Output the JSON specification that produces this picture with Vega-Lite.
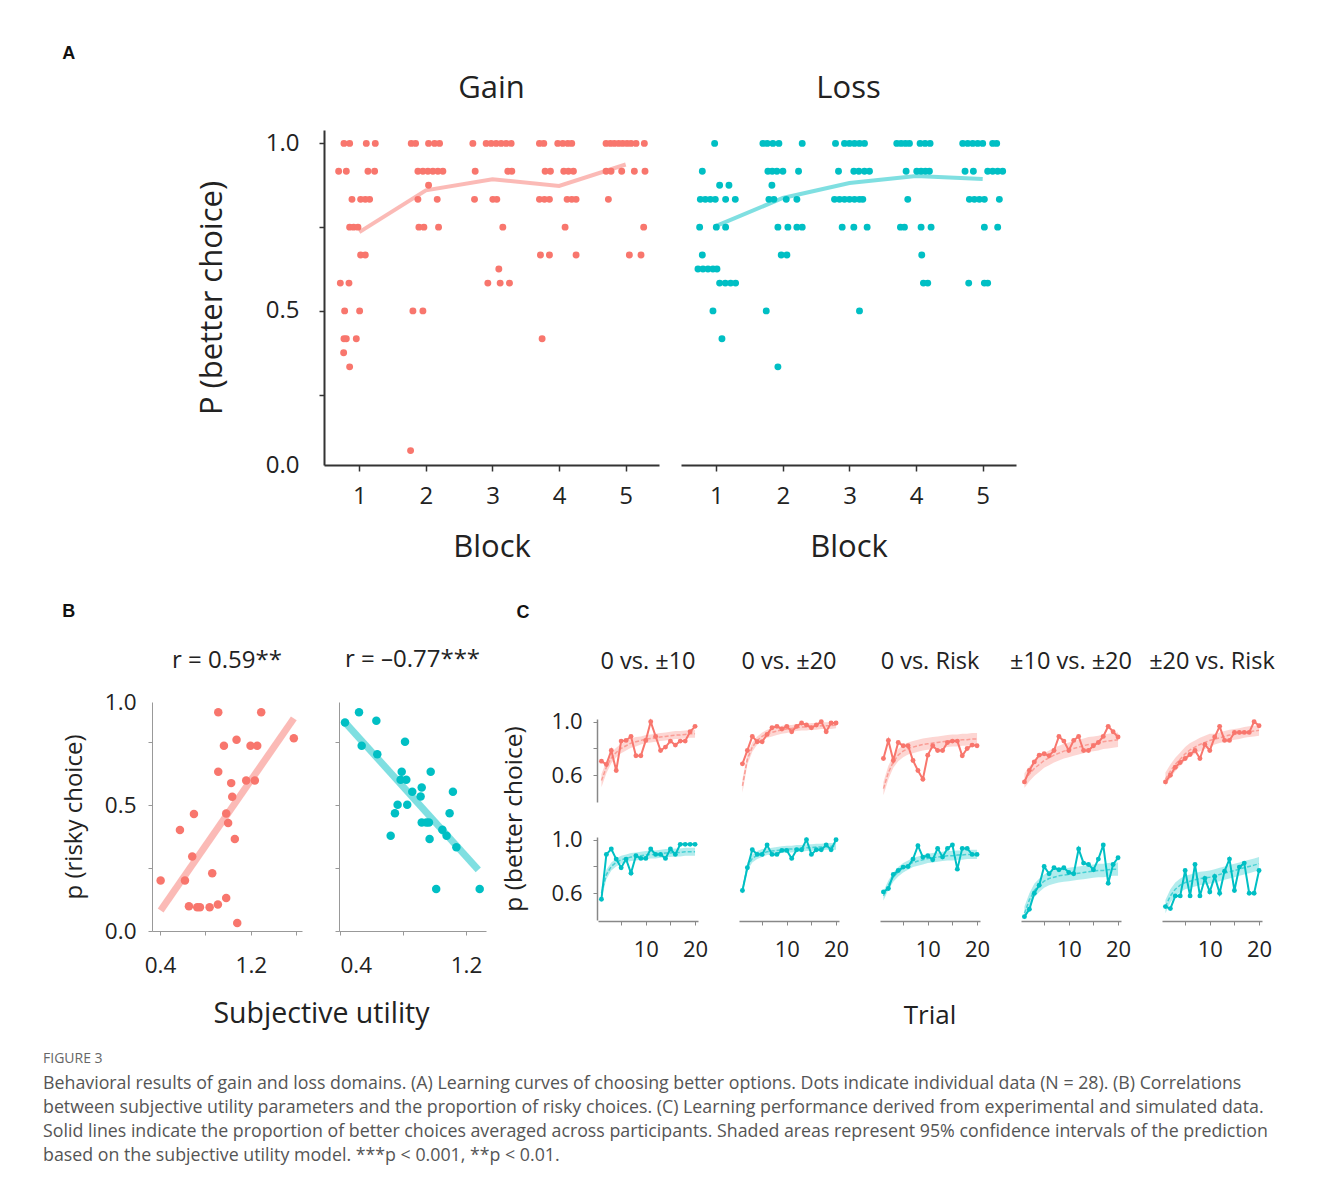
{
"$schema":"https://vega.github.io/schema/vega-lite/v6.json",
"padding":{"left":43,"top":45,"right":5,"bottom":5},
"background":"white",
"config":{"view":{"stroke":null},"font":"Open Sans","axis":{"grid":false,"titleFontWeight":"normal","labelColor":"#222","titleColor":"#222","labelOverlap":false},"header":{"labelColor":"#222","titleColor":"#222","titleFontWeight":"normal","labelFont":"Open Sans","titleFont":"Open Sans"},"title":{"fontWeight":"normal","color":"#222"}},
"title":{"text":"FIGURE 3","subtitle":["Behavioral results of gain and loss domains. (A) Learning curves of choosing better options. Dots indicate individual data (N = 28). (B) Correlations","between subjective utility parameters and the proportion of risky choices. (C) Learning performance derived from experimental and simulated data.","Solid lines indicate the proportion of better choices averaged across participants. Shaded areas represent 95% confidence intervals of the prediction","based on the subjective utility model. ***p < 0.001, **p < 0.01."],"orient":"bottom","anchor":"start","frame":"bounds","dx":-1,"offset":23,"font":"Open Sans","fontSize":14,"fontWeight":"normal","color":"#666","subtitleFont":"Open Sans","subtitleFontSize":17.8,"subtitleColor":"#555","subtitleLineHeight":24,"subtitlePadding":9},
"datasets":{
"A":[
{"dom":"Gain","k":"d","x":0.77,"y":1},{"dom":"Gain","k":"d","x":0.855,"y":1},{"dom":"Gain","k":"d","x":1.105,"y":1},{"dom":"Gain","k":"d","x":1.24,"y":1},{"dom":"Gain","k":"d","x":1.78,"y":1},{"dom":"Gain","k":"d","x":1.845,"y":1},{"dom":"Gain","k":"d","x":2.04,"y":1},{"dom":"Gain","k":"d","x":2.13,"y":1},{"dom":"Gain","k":"d","x":2.205,"y":1},{"dom":"Gain","k":"d","x":2.705,"y":1},{"dom":"Gain","k":"d","x":2.905,"y":1},{"dom":"Gain","k":"d","x":2.98,"y":1},{"dom":"Gain","k":"d","x":3.055,"y":1},{"dom":"Gain","k":"d","x":3.13,"y":1},{"dom":"Gain","k":"d","x":3.205,"y":1},{"dom":"Gain","k":"d","x":3.28,"y":1},{"dom":"Gain","k":"d","x":3.705,"y":1},{"dom":"Gain","k":"d","x":3.77,"y":1},{"dom":"Gain","k":"d","x":3.98,"y":1},{"dom":"Gain","k":"d","x":4.055,"y":1},{"dom":"Gain","k":"d","x":4.13,"y":1},{"dom":"Gain","k":"d","x":4.19,"y":1},{"dom":"Gain","k":"d","x":4.705,"y":1},{"dom":"Gain","k":"d","x":4.77,"y":1},{"dom":"Gain","k":"d","x":4.83,"y":1},{"dom":"Gain","k":"d","x":4.895,"y":1},{"dom":"Gain","k":"d","x":4.955,"y":1},{"dom":"Gain","k":"d","x":5.02,"y":1},{"dom":"Gain","k":"d","x":5.08,"y":1},{"dom":"Gain","k":"d","x":5.155,"y":1},{"dom":"Gain","k":"d","x":5.28,"y":1},
{"dom":"Gain","k":"d","x":0.69,"y":0.917},{"dom":"Gain","k":"d","x":0.805,"y":0.917},{"dom":"Gain","k":"d","x":1.13,"y":0.917},{"dom":"Gain","k":"d","x":1.23,"y":0.917},{"dom":"Gain","k":"d","x":1.88,"y":0.917},{"dom":"Gain","k":"d","x":1.955,"y":0.917},{"dom":"Gain","k":"d","x":2.03,"y":0.917},{"dom":"Gain","k":"d","x":2.105,"y":0.917},{"dom":"Gain","k":"d","x":2.18,"y":0.917},{"dom":"Gain","k":"d","x":2.255,"y":0.917},{"dom":"Gain","k":"d","x":2.74,"y":0.917},{"dom":"Gain","k":"d","x":3.23,"y":0.917},{"dom":"Gain","k":"d","x":3.29,"y":0.917},{"dom":"Gain","k":"d","x":3.79,"y":0.917},{"dom":"Gain","k":"d","x":3.87,"y":0.917},{"dom":"Gain","k":"d","x":4.07,"y":0.917},{"dom":"Gain","k":"d","x":4.14,"y":0.917},{"dom":"Gain","k":"d","x":4.215,"y":0.917},{"dom":"Gain","k":"d","x":4.705,"y":0.917},{"dom":"Gain","k":"d","x":4.78,"y":0.917},{"dom":"Gain","k":"d","x":4.94,"y":0.917},{"dom":"Gain","k":"d","x":5.13,"y":0.917},{"dom":"Gain","k":"d","x":5.29,"y":0.917},
{"dom":"Gain","k":"d","x":2.04,"y":0.875},
{"dom":"Gain","k":"d","x":0.89,"y":0.833},{"dom":"Gain","k":"d","x":1.02,"y":0.833},{"dom":"Gain","k":"d","x":1.09,"y":0.833},{"dom":"Gain","k":"d","x":1.155,"y":0.833},{"dom":"Gain","k":"d","x":1.88,"y":0.833},{"dom":"Gain","k":"d","x":2.17,"y":0.833},{"dom":"Gain","k":"d","x":2.73,"y":0.833},{"dom":"Gain","k":"d","x":3.005,"y":0.833},{"dom":"Gain","k":"d","x":3.065,"y":0.833},{"dom":"Gain","k":"d","x":3.705,"y":0.833},{"dom":"Gain","k":"d","x":3.78,"y":0.833},{"dom":"Gain","k":"d","x":3.855,"y":0.833},{"dom":"Gain","k":"d","x":4.12,"y":0.833},{"dom":"Gain","k":"d","x":4.19,"y":0.833},{"dom":"Gain","k":"d","x":4.255,"y":0.833},{"dom":"Gain","k":"d","x":4.74,"y":0.833},
{"dom":"Gain","k":"d","x":0.855,"y":0.75},{"dom":"Gain","k":"d","x":0.915,"y":0.75},{"dom":"Gain","k":"d","x":0.98,"y":0.75},{"dom":"Gain","k":"d","x":1.895,"y":0.75},{"dom":"Gain","k":"d","x":1.97,"y":0.75},{"dom":"Gain","k":"d","x":2.19,"y":0.75},{"dom":"Gain","k":"d","x":3.155,"y":0.75},{"dom":"Gain","k":"d","x":4.09,"y":0.75},{"dom":"Gain","k":"d","x":5.27,"y":0.75},
{"dom":"Gain","k":"d","x":1.02,"y":0.667},{"dom":"Gain","k":"d","x":1.09,"y":0.667},{"dom":"Gain","k":"d","x":3.72,"y":0.667},{"dom":"Gain","k":"d","x":3.855,"y":0.667},{"dom":"Gain","k":"d","x":4.255,"y":0.667},{"dom":"Gain","k":"d","x":5.055,"y":0.667},{"dom":"Gain","k":"d","x":5.23,"y":0.667},
{"dom":"Gain","k":"d","x":3.095,"y":0.625},
{"dom":"Gain","k":"d","x":0.715,"y":0.583},{"dom":"Gain","k":"d","x":0.845,"y":0.583},{"dom":"Gain","k":"d","x":2.93,"y":0.583},{"dom":"Gain","k":"d","x":3.115,"y":0.583},{"dom":"Gain","k":"d","x":3.255,"y":0.583},
{"dom":"Gain","k":"d","x":0.78,"y":0.5},{"dom":"Gain","k":"d","x":1.005,"y":0.5},{"dom":"Gain","k":"d","x":1.805,"y":0.5},{"dom":"Gain","k":"d","x":1.955,"y":0.5},
{"dom":"Gain","k":"d","x":0.77,"y":0.417},{"dom":"Gain","k":"d","x":0.805,"y":0.417},{"dom":"Gain","k":"d","x":0.955,"y":0.417},{"dom":"Gain","k":"d","x":3.745,"y":0.417},
{"dom":"Gain","k":"d","x":0.765,"y":0.375},{"dom":"Gain","k":"d","x":0.855,"y":0.333},{"dom":"Gain","k":"d","x":1.77,"y":0.083},
{"dom":"Loss","k":"d","x":0.975,"y":1},{"dom":"Loss","k":"d","x":1.7,"y":1},{"dom":"Loss","k":"d","x":1.765,"y":1},{"dom":"Loss","k":"d","x":1.85,"y":1},{"dom":"Loss","k":"d","x":1.94,"y":1},{"dom":"Loss","k":"d","x":2.29,"y":1},{"dom":"Loss","k":"d","x":2.79,"y":1},{"dom":"Loss","k":"d","x":2.925,"y":1},{"dom":"Loss","k":"d","x":3.0,"y":1},{"dom":"Loss","k":"d","x":3.075,"y":1},{"dom":"Loss","k":"d","x":3.15,"y":1},{"dom":"Loss","k":"d","x":3.225,"y":1},{"dom":"Loss","k":"d","x":3.71,"y":1},{"dom":"Loss","k":"d","x":3.775,"y":1},{"dom":"Loss","k":"d","x":3.84,"y":1},{"dom":"Loss","k":"d","x":3.9,"y":1},{"dom":"Loss","k":"d","x":4.06,"y":1},{"dom":"Loss","k":"d","x":4.135,"y":1},{"dom":"Loss","k":"d","x":4.21,"y":1},{"dom":"Loss","k":"d","x":4.7,"y":1},{"dom":"Loss","k":"d","x":4.775,"y":1},{"dom":"Loss","k":"d","x":4.85,"y":1},{"dom":"Loss","k":"d","x":4.925,"y":1},{"dom":"Loss","k":"d","x":5.0,"y":1},{"dom":"Loss","k":"d","x":5.15,"y":1},{"dom":"Loss","k":"d","x":5.21,"y":1},
{"dom":"Loss","k":"d","x":0.79,"y":0.917},{"dom":"Loss","k":"d","x":1.775,"y":0.917},{"dom":"Loss","k":"d","x":1.84,"y":0.917},{"dom":"Loss","k":"d","x":1.91,"y":0.917},{"dom":"Loss","k":"d","x":2.0,"y":0.917},{"dom":"Loss","k":"d","x":2.235,"y":0.917},{"dom":"Loss","k":"d","x":2.835,"y":0.917},{"dom":"Loss","k":"d","x":3.065,"y":0.917},{"dom":"Loss","k":"d","x":3.14,"y":0.917},{"dom":"Loss","k":"d","x":3.225,"y":0.917},{"dom":"Loss","k":"d","x":3.3,"y":0.917},{"dom":"Loss","k":"d","x":3.85,"y":0.917},{"dom":"Loss","k":"d","x":4.01,"y":0.917},{"dom":"Loss","k":"d","x":4.075,"y":0.917},{"dom":"Loss","k":"d","x":4.14,"y":0.917},{"dom":"Loss","k":"d","x":4.2,"y":0.917},{"dom":"Loss","k":"d","x":4.735,"y":0.917},{"dom":"Loss","k":"d","x":4.86,"y":0.917},{"dom":"Loss","k":"d","x":5.075,"y":0.917},{"dom":"Loss","k":"d","x":5.15,"y":0.917},{"dom":"Loss","k":"d","x":5.225,"y":0.917},{"dom":"Loss","k":"d","x":5.3,"y":0.917},
{"dom":"Loss","k":"d","x":1.05,"y":0.875},{"dom":"Loss","k":"d","x":1.19,"y":0.875},{"dom":"Loss","k":"d","x":1.835,"y":0.875},
{"dom":"Loss","k":"d","x":0.76,"y":0.833},{"dom":"Loss","k":"d","x":0.835,"y":0.833},{"dom":"Loss","k":"d","x":0.91,"y":0.833},{"dom":"Loss","k":"d","x":0.985,"y":0.833},{"dom":"Loss","k":"d","x":1.14,"y":0.833},{"dom":"Loss","k":"d","x":1.285,"y":0.833},{"dom":"Loss","k":"d","x":1.79,"y":0.833},{"dom":"Loss","k":"d","x":1.865,"y":0.833},{"dom":"Loss","k":"d","x":2.05,"y":0.833},{"dom":"Loss","k":"d","x":2.21,"y":0.833},{"dom":"Loss","k":"d","x":2.775,"y":0.833},{"dom":"Loss","k":"d","x":2.85,"y":0.833},{"dom":"Loss","k":"d","x":2.925,"y":0.833},{"dom":"Loss","k":"d","x":3.0,"y":0.833},{"dom":"Loss","k":"d","x":3.075,"y":0.833},{"dom":"Loss","k":"d","x":3.15,"y":0.833},{"dom":"Loss","k":"d","x":3.2,"y":0.833},{"dom":"Loss","k":"d","x":3.875,"y":0.833},{"dom":"Loss","k":"d","x":4.8,"y":0.833},{"dom":"Loss","k":"d","x":4.875,"y":0.833},{"dom":"Loss","k":"d","x":4.95,"y":0.833},{"dom":"Loss","k":"d","x":5.025,"y":0.833},{"dom":"Loss","k":"d","x":5.25,"y":0.833},
{"dom":"Loss","k":"d","x":0.75,"y":0.75},{"dom":"Loss","k":"d","x":1.0,"y":0.75},{"dom":"Loss","k":"d","x":1.14,"y":0.75},{"dom":"Loss","k":"d","x":1.925,"y":0.75},{"dom":"Loss","k":"d","x":2.075,"y":0.75},{"dom":"Loss","k":"d","x":2.21,"y":0.75},{"dom":"Loss","k":"d","x":2.29,"y":0.75},{"dom":"Loss","k":"d","x":2.89,"y":0.75},{"dom":"Loss","k":"d","x":3.065,"y":0.75},{"dom":"Loss","k":"d","x":3.265,"y":0.75},{"dom":"Loss","k":"d","x":3.765,"y":0.75},{"dom":"Loss","k":"d","x":3.825,"y":0.75},{"dom":"Loss","k":"d","x":4.075,"y":0.75},{"dom":"Loss","k":"d","x":4.225,"y":0.75},{"dom":"Loss","k":"d","x":5.025,"y":0.75},{"dom":"Loss","k":"d","x":5.225,"y":0.75},
{"dom":"Loss","k":"d","x":0.79,"y":0.667},{"dom":"Loss","k":"d","x":1.975,"y":0.667},{"dom":"Loss","k":"d","x":2.06,"y":0.667},{"dom":"Loss","k":"d","x":4.085,"y":0.667},
{"dom":"Loss","k":"d","x":0.725,"y":0.625},{"dom":"Loss","k":"d","x":0.8,"y":0.625},{"dom":"Loss","k":"d","x":0.875,"y":0.625},{"dom":"Loss","k":"d","x":0.95,"y":0.625},{"dom":"Loss","k":"d","x":1.01,"y":0.625},
{"dom":"Loss","k":"d","x":1.05,"y":0.583},{"dom":"Loss","k":"d","x":1.135,"y":0.583},{"dom":"Loss","k":"d","x":1.215,"y":0.583},{"dom":"Loss","k":"d","x":1.29,"y":0.583},{"dom":"Loss","k":"d","x":4.11,"y":0.583},{"dom":"Loss","k":"d","x":4.175,"y":0.583},{"dom":"Loss","k":"d","x":4.79,"y":0.583},{"dom":"Loss","k":"d","x":5.025,"y":0.583},{"dom":"Loss","k":"d","x":5.075,"y":0.583},
{"dom":"Loss","k":"d","x":0.95,"y":0.5},{"dom":"Loss","k":"d","x":1.75,"y":0.5},{"dom":"Loss","k":"d","x":3.15,"y":0.5},
{"dom":"Loss","k":"d","x":1.085,"y":0.417},{"dom":"Loss","k":"d","x":1.925,"y":0.333},
{"dom":"Gain","k":"m","x":1,"y":0.735},{"dom":"Gain","k":"m","x":2,"y":0.86},{"dom":"Gain","k":"m","x":3,"y":0.893},{"dom":"Gain","k":"m","x":4,"y":0.873},{"dom":"Gain","k":"m","x":5,"y":0.937},
{"dom":"Loss","k":"m","x":1,"y":0.754},{"dom":"Loss","k":"m","x":2,"y":0.837},{"dom":"Loss","k":"m","x":3,"y":0.882},{"dom":"Loss","k":"m","x":4,"y":0.903},{"dom":"Loss","k":"m","x":5,"y":0.894}
],
"bG":[
{"k":"p","su":0.913,"pr":0.868},{"k":"p","su":1.291,"pr":0.868},{"k":"p","su":0.963,"pr":0.735},{"k":"p","su":1.074,"pr":0.759},{"k":"p","su":1.197,"pr":0.735},{"k":"p","su":1.256,"pr":0.735},{"k":"p","su":1.578,"pr":0.765},{"k":"p","su":0.913,"pr":0.632},{"k":"p","su":1.027,"pr":0.587},{"k":"p","su":1.159,"pr":0.597},{"k":"p","su":1.235,"pr":0.597},{"k":"p","su":1.036,"pr":0.533},{"k":"p","su":0.699,"pr":0.464},{"k":"p","su":0.983,"pr":0.466},{"k":"p","su":1.0,"pr":0.429},{"k":"p","su":0.576,"pr":0.401},{"k":"p","su":1.059,"pr":0.365},{"k":"p","su":0.684,"pr":0.296},{"k":"p","su":0.406,"pr":0.2},{"k":"p","su":0.62,"pr":0.2},{"k":"p","su":0.86,"pr":0.229},{"k":"p","su":0.655,"pr":0.098},{"k":"p","su":0.728,"pr":0.094},{"k":"p","su":0.752,"pr":0.094},{"k":"p","su":0.837,"pr":0.094},{"k":"p","su":0.91,"pr":0.105},{"k":"p","su":0.983,"pr":0.131},{"k":"p","su":1.08,"pr":0.032},
{"k":"f","su":0.406,"pr":0.081},{"k":"f","su":1.578,"pr":0.844}
],
"bL":[
{"k":"p","su":0.432,"pr":0.828},{"k":"p","su":0.521,"pr":0.868},{"k":"p","su":0.631,"pr":0.835},{"k":"p","su":0.538,"pr":0.735},{"k":"p","su":0.637,"pr":0.702},{"k":"p","su":0.813,"pr":0.751},{"k":"p","su":0.792,"pr":0.632},{"k":"p","su":0.976,"pr":0.632},{"k":"p","su":0.785,"pr":0.6},{"k":"p","su":0.821,"pr":0.6},{"k":"p","su":0.859,"pr":0.553},{"k":"p","su":0.919,"pr":0.57},{"k":"p","su":0.912,"pr":0.534},{"k":"p","su":1.117,"pr":0.553},{"k":"p","su":0.766,"pr":0.501},{"k":"p","su":0.827,"pr":0.501},{"k":"p","su":0.749,"pr":0.467},{"k":"p","su":1.096,"pr":0.467},{"k":"p","su":0.919,"pr":0.431},{"k":"p","su":0.948,"pr":0.431},{"k":"p","su":0.965,"pr":0.431},{"k":"p","su":1.05,"pr":0.402},{"k":"p","su":1.077,"pr":0.378},{"k":"p","su":0.722,"pr":0.378},{"k":"p","su":0.969,"pr":0.365},{"k":"p","su":1.139,"pr":0.332},{"k":"p","su":1.011,"pr":0.167},{"k":"p","su":1.287,"pr":0.167},
{"k":"f","su":0.432,"pr":0.828},{"k":"f","su":1.278,"pr":0.243}
],
"C":[
{"c":"0 vs. ±10","dom":"Gain","t":1,"o":0.705,"p":0.56,"lo":0.51,"hi":0.61},{"c":"0 vs. ±10","dom":"Gain","t":2,"o":0.68,"p":0.66,"lo":0.615,"hi":0.705},{"c":"0 vs. ±10","dom":"Gain","t":3,"o":0.785,"p":0.73,"lo":0.69,"hi":0.77},{"c":"0 vs. ±10","dom":"Gain","t":4,"o":0.635,"p":0.77,"lo":0.735,"hi":0.805},{"c":"0 vs. ±10","dom":"Gain","t":5,"o":0.855,"p":0.8,"lo":0.765,"hi":0.835},{"c":"0 vs. ±10","dom":"Gain","t":6,"o":0.86,"p":0.82,"lo":0.785,"hi":0.855},{"c":"0 vs. ±10","dom":"Gain","t":7,"o":0.89,"p":0.84,"lo":0.805,"hi":0.875},{"c":"0 vs. ±10","dom":"Gain","t":8,"o":0.745,"p":0.85,"lo":0.815,"hi":0.885},{"c":"0 vs. ±10","dom":"Gain","t":9,"o":0.745,"p":0.86,"lo":0.83,"hi":0.89},{"c":"0 vs. ±10","dom":"Gain","t":10,"o":0.86,"p":0.87,"lo":0.84,"hi":0.9},{"c":"0 vs. ±10","dom":"Gain","t":11,"o":1.0,"p":0.875,"lo":0.845,"hi":0.905},{"c":"0 vs. ±10","dom":"Gain","t":12,"o":0.89,"p":0.88,"lo":0.85,"hi":0.91},{"c":"0 vs. ±10","dom":"Gain","t":13,"o":0.785,"p":0.885,"lo":0.855,"hi":0.915},{"c":"0 vs. ±10","dom":"Gain","t":14,"o":0.81,"p":0.89,"lo":0.86,"hi":0.92},{"c":"0 vs. ±10","dom":"Gain","t":15,"o":0.855,"p":0.895,"lo":0.865,"hi":0.925},{"c":"0 vs. ±10","dom":"Gain","t":16,"o":0.825,"p":0.9,"lo":0.87,"hi":0.93},{"c":"0 vs. ±10","dom":"Gain","t":17,"o":0.855,"p":0.9,"lo":0.87,"hi":0.93},{"c":"0 vs. ±10","dom":"Gain","t":18,"o":0.855,"p":0.905,"lo":0.875,"hi":0.935},{"c":"0 vs. ±10","dom":"Gain","t":19,"o":0.925,"p":0.91,"lo":0.88,"hi":0.94},{"c":"0 vs. ±10","dom":"Gain","t":20,"o":0.965,"p":0.91,"lo":0.88,"hi":0.94},
{"c":"0 vs. ±10","dom":"Loss","t":1,"o":0.555,"p":0.6,"lo":0.56,"hi":0.64},{"c":"0 vs. ±10","dom":"Loss","t":2,"o":0.89,"p":0.74,"lo":0.705,"hi":0.775},{"c":"0 vs. ±10","dom":"Loss","t":3,"o":0.93,"p":0.8,"lo":0.77,"hi":0.83},{"c":"0 vs. ±10","dom":"Loss","t":4,"o":0.855,"p":0.83,"lo":0.8,"hi":0.86},{"c":"0 vs. ±10","dom":"Loss","t":5,"o":0.79,"p":0.85,"lo":0.82,"hi":0.88},{"c":"0 vs. ±10","dom":"Loss","t":6,"o":0.855,"p":0.86,"lo":0.83,"hi":0.89},{"c":"0 vs. ±10","dom":"Loss","t":7,"o":0.75,"p":0.87,"lo":0.84,"hi":0.9},{"c":"0 vs. ±10","dom":"Loss","t":8,"o":0.88,"p":0.875,"lo":0.845,"hi":0.905},{"c":"0 vs. ±10","dom":"Loss","t":9,"o":0.86,"p":0.88,"lo":0.85,"hi":0.91},{"c":"0 vs. ±10","dom":"Loss","t":10,"o":0.86,"p":0.885,"lo":0.855,"hi":0.915},{"c":"0 vs. ±10","dom":"Loss","t":11,"o":0.93,"p":0.89,"lo":0.86,"hi":0.92},{"c":"0 vs. ±10","dom":"Loss","t":12,"o":0.89,"p":0.89,"lo":0.86,"hi":0.92},{"c":"0 vs. ±10","dom":"Loss","t":13,"o":0.89,"p":0.895,"lo":0.865,"hi":0.925},{"c":"0 vs. ±10","dom":"Loss","t":14,"o":0.86,"p":0.9,"lo":0.87,"hi":0.93},{"c":"0 vs. ±10","dom":"Loss","t":15,"o":0.93,"p":0.9,"lo":0.87,"hi":0.93},{"c":"0 vs. ±10","dom":"Loss","t":16,"o":0.89,"p":0.905,"lo":0.875,"hi":0.935},{"c":"0 vs. ±10","dom":"Loss","t":17,"o":0.965,"p":0.905,"lo":0.875,"hi":0.935},{"c":"0 vs. ±10","dom":"Loss","t":18,"o":0.965,"p":0.91,"lo":0.88,"hi":0.94},{"c":"0 vs. ±10","dom":"Loss","t":19,"o":0.965,"p":0.91,"lo":0.88,"hi":0.94},{"c":"0 vs. ±10","dom":"Loss","t":20,"o":0.965,"p":0.91,"lo":0.88,"hi":0.94},
{"c":"0 vs. ±20","dom":"Gain","t":1,"o":0.685,"p":0.52,"lo":0.47,"hi":0.57},{"c":"0 vs. ±20","dom":"Gain","t":2,"o":0.785,"p":0.72,"lo":0.68,"hi":0.76},{"c":"0 vs. ±20","dom":"Gain","t":3,"o":0.89,"p":0.81,"lo":0.775,"hi":0.845},{"c":"0 vs. ±20","dom":"Gain","t":4,"o":0.85,"p":0.86,"lo":0.83,"hi":0.89},{"c":"0 vs. ±20","dom":"Gain","t":5,"o":0.85,"p":0.89,"lo":0.86,"hi":0.92},{"c":"0 vs. ±20","dom":"Gain","t":6,"o":0.905,"p":0.91,"lo":0.88,"hi":0.94},{"c":"0 vs. ±20","dom":"Gain","t":7,"o":0.955,"p":0.92,"lo":0.89,"hi":0.95},{"c":"0 vs. ±20","dom":"Gain","t":8,"o":0.965,"p":0.93,"lo":0.9,"hi":0.96},{"c":"0 vs. ±20","dom":"Gain","t":9,"o":0.945,"p":0.94,"lo":0.91,"hi":0.97},{"c":"0 vs. ±20","dom":"Gain","t":10,"o":0.965,"p":0.945,"lo":0.915,"hi":0.975},{"c":"0 vs. ±20","dom":"Gain","t":11,"o":0.925,"p":0.95,"lo":0.925,"hi":0.975},{"c":"0 vs. ±20","dom":"Gain","t":12,"o":0.965,"p":0.955,"lo":0.93,"hi":0.98},{"c":"0 vs. ±20","dom":"Gain","t":13,"o":0.99,"p":0.96,"lo":0.935,"hi":0.985},{"c":"0 vs. ±20","dom":"Gain","t":14,"o":0.975,"p":0.96,"lo":0.935,"hi":0.985},{"c":"0 vs. ±20","dom":"Gain","t":15,"o":0.955,"p":0.965,"lo":0.94,"hi":0.99},{"c":"0 vs. ±20","dom":"Gain","t":16,"o":0.975,"p":0.965,"lo":0.94,"hi":0.99},{"c":"0 vs. ±20","dom":"Gain","t":17,"o":1.0,"p":0.97,"lo":0.945,"hi":0.995},{"c":"0 vs. ±20","dom":"Gain","t":18,"o":0.925,"p":0.97,"lo":0.945,"hi":0.995},{"c":"0 vs. ±20","dom":"Gain","t":19,"o":0.99,"p":0.97,"lo":0.945,"hi":0.995},{"c":"0 vs. ±20","dom":"Gain","t":20,"o":0.99,"p":0.975,"lo":0.95,"hi":1.0},
{"c":"0 vs. ±20","dom":"Loss","t":1,"o":0.62,"p":0.62,"lo":0.59,"hi":0.65},{"c":"0 vs. ±20","dom":"Loss","t":2,"o":0.79,"p":0.8,"lo":0.77,"hi":0.83},{"c":"0 vs. ±20","dom":"Loss","t":3,"o":0.925,"p":0.86,"lo":0.83,"hi":0.89},{"c":"0 vs. ±20","dom":"Loss","t":4,"o":0.89,"p":0.885,"lo":0.855,"hi":0.915},{"c":"0 vs. ±20","dom":"Loss","t":5,"o":0.89,"p":0.9,"lo":0.87,"hi":0.93},{"c":"0 vs. ±20","dom":"Loss","t":6,"o":0.96,"p":0.91,"lo":0.885,"hi":0.935},{"c":"0 vs. ±20","dom":"Loss","t":7,"o":0.89,"p":0.915,"lo":0.89,"hi":0.94},{"c":"0 vs. ±20","dom":"Loss","t":8,"o":0.89,"p":0.92,"lo":0.895,"hi":0.945},{"c":"0 vs. ±20","dom":"Loss","t":9,"o":0.92,"p":0.925,"lo":0.9,"hi":0.95},{"c":"0 vs. ±20","dom":"Loss","t":10,"o":0.92,"p":0.93,"lo":0.905,"hi":0.955},{"c":"0 vs. ±20","dom":"Loss","t":11,"o":0.86,"p":0.93,"lo":0.905,"hi":0.955},{"c":"0 vs. ±20","dom":"Loss","t":12,"o":0.925,"p":0.935,"lo":0.91,"hi":0.96},{"c":"0 vs. ±20","dom":"Loss","t":13,"o":0.925,"p":0.935,"lo":0.91,"hi":0.96},{"c":"0 vs. ±20","dom":"Loss","t":14,"o":1.0,"p":0.94,"lo":0.915,"hi":0.965},{"c":"0 vs. ±20","dom":"Loss","t":15,"o":0.89,"p":0.94,"lo":0.915,"hi":0.965},{"c":"0 vs. ±20","dom":"Loss","t":16,"o":0.925,"p":0.945,"lo":0.92,"hi":0.97},{"c":"0 vs. ±20","dom":"Loss","t":17,"o":0.925,"p":0.945,"lo":0.92,"hi":0.97},{"c":"0 vs. ±20","dom":"Loss","t":18,"o":0.96,"p":0.95,"lo":0.925,"hi":0.975},{"c":"0 vs. ±20","dom":"Loss","t":19,"o":0.925,"p":0.95,"lo":0.925,"hi":0.975},{"c":"0 vs. ±20","dom":"Loss","t":20,"o":1.0,"p":0.95,"lo":0.925,"hi":0.975},
{"c":"0 vs. Risk","dom":"Gain","t":1,"o":0.725,"p":0.5,"lo":0.45,"hi":0.55},{"c":"0 vs. Risk","dom":"Gain","t":2,"o":0.86,"p":0.62,"lo":0.57,"hi":0.67},{"c":"0 vs. Risk","dom":"Gain","t":3,"o":0.71,"p":0.7,"lo":0.655,"hi":0.745},{"c":"0 vs. Risk","dom":"Gain","t":4,"o":0.845,"p":0.75,"lo":0.705,"hi":0.795},{"c":"0 vs. Risk","dom":"Gain","t":5,"o":0.82,"p":0.78,"lo":0.735,"hi":0.825},{"c":"0 vs. Risk","dom":"Gain","t":6,"o":0.82,"p":0.8,"lo":0.755,"hi":0.845},{"c":"0 vs. Risk","dom":"Gain","t":7,"o":0.71,"p":0.81,"lo":0.765,"hi":0.855},{"c":"0 vs. Risk","dom":"Gain","t":8,"o":0.635,"p":0.82,"lo":0.775,"hi":0.865},{"c":"0 vs. Risk","dom":"Gain","t":9,"o":0.57,"p":0.83,"lo":0.785,"hi":0.875},{"c":"0 vs. Risk","dom":"Gain","t":10,"o":0.75,"p":0.835,"lo":0.79,"hi":0.88},{"c":"0 vs. Risk","dom":"Gain","t":11,"o":0.82,"p":0.84,"lo":0.795,"hi":0.885},{"c":"0 vs. Risk","dom":"Gain","t":12,"o":0.785,"p":0.845,"lo":0.8,"hi":0.89},{"c":"0 vs. Risk","dom":"Gain","t":13,"o":0.785,"p":0.85,"lo":0.805,"hi":0.895},{"c":"0 vs. Risk","dom":"Gain","t":14,"o":0.845,"p":0.855,"lo":0.81,"hi":0.9},{"c":"0 vs. Risk","dom":"Gain","t":15,"o":0.855,"p":0.86,"lo":0.815,"hi":0.905},{"c":"0 vs. Risk","dom":"Gain","t":16,"o":0.855,"p":0.86,"lo":0.815,"hi":0.905},{"c":"0 vs. Risk","dom":"Gain","t":17,"o":0.745,"p":0.865,"lo":0.82,"hi":0.91},{"c":"0 vs. Risk","dom":"Gain","t":18,"o":0.8,"p":0.865,"lo":0.82,"hi":0.91},{"c":"0 vs. Risk","dom":"Gain","t":19,"o":0.825,"p":0.87,"lo":0.825,"hi":0.915},{"c":"0 vs. Risk","dom":"Gain","t":20,"o":0.82,"p":0.87,"lo":0.825,"hi":0.915},
{"c":"0 vs. Risk","dom":"Loss","t":1,"o":0.61,"p":0.58,"lo":0.545,"hi":0.615},{"c":"0 vs. Risk","dom":"Loss","t":2,"o":0.635,"p":0.66,"lo":0.625,"hi":0.695},{"c":"0 vs. Risk","dom":"Loss","t":3,"o":0.74,"p":0.72,"lo":0.685,"hi":0.755},{"c":"0 vs. Risk","dom":"Loss","t":4,"o":0.77,"p":0.76,"lo":0.725,"hi":0.795},{"c":"0 vs. Risk","dom":"Loss","t":5,"o":0.795,"p":0.79,"lo":0.755,"hi":0.825},{"c":"0 vs. Risk","dom":"Loss","t":6,"o":0.8,"p":0.81,"lo":0.775,"hi":0.845},{"c":"0 vs. Risk","dom":"Loss","t":7,"o":0.855,"p":0.83,"lo":0.795,"hi":0.865},{"c":"0 vs. Risk","dom":"Loss","t":8,"o":0.955,"p":0.84,"lo":0.805,"hi":0.875},{"c":"0 vs. Risk","dom":"Loss","t":9,"o":0.87,"p":0.85,"lo":0.815,"hi":0.885},{"c":"0 vs. Risk","dom":"Loss","t":10,"o":0.88,"p":0.86,"lo":0.825,"hi":0.895},{"c":"0 vs. Risk","dom":"Loss","t":11,"o":0.85,"p":0.865,"lo":0.83,"hi":0.9},{"c":"0 vs. Risk","dom":"Loss","t":12,"o":0.935,"p":0.87,"lo":0.835,"hi":0.905},{"c":"0 vs. Risk","dom":"Loss","t":13,"o":0.87,"p":0.875,"lo":0.84,"hi":0.91},{"c":"0 vs. Risk","dom":"Loss","t":14,"o":0.935,"p":0.88,"lo":0.845,"hi":0.915},{"c":"0 vs. Risk","dom":"Loss","t":15,"o":0.96,"p":0.88,"lo":0.845,"hi":0.915},{"c":"0 vs. Risk","dom":"Loss","t":16,"o":0.78,"p":0.885,"lo":0.85,"hi":0.92},{"c":"0 vs. Risk","dom":"Loss","t":17,"o":0.935,"p":0.885,"lo":0.85,"hi":0.92},{"c":"0 vs. Risk","dom":"Loss","t":18,"o":0.935,"p":0.89,"lo":0.855,"hi":0.925},{"c":"0 vs. Risk","dom":"Loss","t":19,"o":0.89,"p":0.89,"lo":0.855,"hi":0.925},{"c":"0 vs. Risk","dom":"Loss","t":20,"o":0.89,"p":0.89,"lo":0.855,"hi":0.925},
{"c":"±10 vs. ±20","dom":"Gain","t":1,"o":0.55,"p":0.56,"lo":0.505,"hi":0.615},{"c":"±10 vs. ±20","dom":"Gain","t":2,"o":0.635,"p":0.61,"lo":0.555,"hi":0.665},{"c":"±10 vs. ±20","dom":"Gain","t":3,"o":0.7,"p":0.65,"lo":0.595,"hi":0.705},{"c":"±10 vs. ±20","dom":"Gain","t":4,"o":0.75,"p":0.68,"lo":0.625,"hi":0.735},{"c":"±10 vs. ±20","dom":"Gain","t":5,"o":0.76,"p":0.71,"lo":0.655,"hi":0.765},{"c":"±10 vs. ±20","dom":"Gain","t":6,"o":0.745,"p":0.73,"lo":0.675,"hi":0.785},{"c":"±10 vs. ±20","dom":"Gain","t":7,"o":0.785,"p":0.75,"lo":0.695,"hi":0.805},{"c":"±10 vs. ±20","dom":"Gain","t":8,"o":0.89,"p":0.765,"lo":0.71,"hi":0.82},{"c":"±10 vs. ±20","dom":"Gain","t":9,"o":0.855,"p":0.78,"lo":0.725,"hi":0.835},{"c":"±10 vs. ±20","dom":"Gain","t":10,"o":0.785,"p":0.79,"lo":0.735,"hi":0.845},{"c":"±10 vs. ±20","dom":"Gain","t":11,"o":0.86,"p":0.8,"lo":0.745,"hi":0.855},{"c":"±10 vs. ±20","dom":"Gain","t":12,"o":0.89,"p":0.81,"lo":0.755,"hi":0.865},{"c":"±10 vs. ±20","dom":"Gain","t":13,"o":0.785,"p":0.82,"lo":0.765,"hi":0.875},{"c":"±10 vs. ±20","dom":"Gain","t":14,"o":0.785,"p":0.83,"lo":0.775,"hi":0.885},{"c":"±10 vs. ±20","dom":"Gain","t":15,"o":0.82,"p":0.835,"lo":0.78,"hi":0.89},{"c":"±10 vs. ±20","dom":"Gain","t":16,"o":0.845,"p":0.84,"lo":0.785,"hi":0.895},{"c":"±10 vs. ±20","dom":"Gain","t":17,"o":0.89,"p":0.85,"lo":0.795,"hi":0.905},{"c":"±10 vs. ±20","dom":"Gain","t":18,"o":0.965,"p":0.855,"lo":0.8,"hi":0.91},{"c":"±10 vs. ±20","dom":"Gain","t":19,"o":0.925,"p":0.86,"lo":0.805,"hi":0.915},{"c":"±10 vs. ±20","dom":"Gain","t":20,"o":0.885,"p":0.865,"lo":0.81,"hi":0.92},
{"c":"±10 vs. ±20","dom":"Loss","t":1,"o":0.425,"p":0.45,"lo":0.4,"hi":0.5},{"c":"±10 vs. ±20","dom":"Loss","t":2,"o":0.48,"p":0.55,"lo":0.5,"hi":0.6},{"c":"±10 vs. ±20","dom":"Loss","t":3,"o":0.6,"p":0.62,"lo":0.57,"hi":0.67},{"c":"±10 vs. ±20","dom":"Loss","t":4,"o":0.66,"p":0.66,"lo":0.61,"hi":0.71},{"c":"±10 vs. ±20","dom":"Loss","t":5,"o":0.8,"p":0.69,"lo":0.64,"hi":0.74},{"c":"±10 vs. ±20","dom":"Loss","t":6,"o":0.745,"p":0.71,"lo":0.66,"hi":0.76},{"c":"±10 vs. ±20","dom":"Loss","t":7,"o":0.79,"p":0.72,"lo":0.67,"hi":0.77},{"c":"±10 vs. ±20","dom":"Loss","t":8,"o":0.775,"p":0.73,"lo":0.68,"hi":0.78},{"c":"±10 vs. ±20","dom":"Loss","t":9,"o":0.79,"p":0.735,"lo":0.685,"hi":0.785},{"c":"±10 vs. ±20","dom":"Loss","t":10,"o":0.755,"p":0.74,"lo":0.69,"hi":0.79},{"c":"±10 vs. ±20","dom":"Loss","t":11,"o":0.745,"p":0.745,"lo":0.695,"hi":0.795},{"c":"±10 vs. ±20","dom":"Loss","t":12,"o":0.93,"p":0.75,"lo":0.7,"hi":0.8},{"c":"±10 vs. ±20","dom":"Loss","t":13,"o":0.825,"p":0.755,"lo":0.705,"hi":0.805},{"c":"±10 vs. ±20","dom":"Loss","t":14,"o":0.815,"p":0.76,"lo":0.71,"hi":0.81},{"c":"±10 vs. ±20","dom":"Loss","t":15,"o":0.775,"p":0.765,"lo":0.715,"hi":0.815},{"c":"±10 vs. ±20","dom":"Loss","t":16,"o":0.855,"p":0.77,"lo":0.72,"hi":0.82},{"c":"±10 vs. ±20","dom":"Loss","t":17,"o":0.96,"p":0.77,"lo":0.72,"hi":0.82},{"c":"±10 vs. ±20","dom":"Loss","t":18,"o":0.675,"p":0.775,"lo":0.725,"hi":0.825},{"c":"±10 vs. ±20","dom":"Loss","t":19,"o":0.815,"p":0.78,"lo":0.73,"hi":0.83},{"c":"±10 vs. ±20","dom":"Loss","t":20,"o":0.865,"p":0.78,"lo":0.73,"hi":0.83},
{"c":"±20 vs. Risk","dom":"Gain","t":1,"o":0.55,"p":0.57,"lo":0.52,"hi":0.62},{"c":"±20 vs. Risk","dom":"Gain","t":2,"o":0.6,"p":0.63,"lo":0.58,"hi":0.68},{"c":"±20 vs. Risk","dom":"Gain","t":3,"o":0.66,"p":0.68,"lo":0.63,"hi":0.73},{"c":"±20 vs. Risk","dom":"Gain","t":4,"o":0.695,"p":0.72,"lo":0.67,"hi":0.77},{"c":"±20 vs. Risk","dom":"Gain","t":5,"o":0.725,"p":0.76,"lo":0.71,"hi":0.81},{"c":"±20 vs. Risk","dom":"Gain","t":6,"o":0.755,"p":0.79,"lo":0.74,"hi":0.84},{"c":"±20 vs. Risk","dom":"Gain","t":7,"o":0.785,"p":0.81,"lo":0.76,"hi":0.86},{"c":"±20 vs. Risk","dom":"Gain","t":8,"o":0.725,"p":0.83,"lo":0.78,"hi":0.88},{"c":"±20 vs. Risk","dom":"Gain","t":9,"o":0.83,"p":0.845,"lo":0.795,"hi":0.895},{"c":"±20 vs. Risk","dom":"Gain","t":10,"o":0.785,"p":0.86,"lo":0.81,"hi":0.91},{"c":"±20 vs. Risk","dom":"Gain","t":11,"o":0.885,"p":0.87,"lo":0.83,"hi":0.91},{"c":"±20 vs. Risk","dom":"Gain","t":12,"o":0.965,"p":0.88,"lo":0.84,"hi":0.92},{"c":"±20 vs. Risk","dom":"Gain","t":13,"o":0.86,"p":0.89,"lo":0.85,"hi":0.93},{"c":"±20 vs. Risk","dom":"Gain","t":14,"o":0.86,"p":0.9,"lo":0.86,"hi":0.94},{"c":"±20 vs. Risk","dom":"Gain","t":15,"o":0.92,"p":0.905,"lo":0.865,"hi":0.945},{"c":"±20 vs. Risk","dom":"Gain","t":16,"o":0.92,"p":0.91,"lo":0.87,"hi":0.95},{"c":"±20 vs. Risk","dom":"Gain","t":17,"o":0.92,"p":0.92,"lo":0.88,"hi":0.96},{"c":"±20 vs. Risk","dom":"Gain","t":18,"o":0.92,"p":0.925,"lo":0.885,"hi":0.965},{"c":"±20 vs. Risk","dom":"Gain","t":19,"o":1.0,"p":0.93,"lo":0.89,"hi":0.97},{"c":"±20 vs. Risk","dom":"Gain","t":20,"o":0.97,"p":0.935,"lo":0.895,"hi":0.975},
{"c":"±20 vs. Risk","dom":"Loss","t":1,"o":0.5,"p":0.5,"lo":0.45,"hi":0.55},{"c":"±20 vs. Risk","dom":"Loss","t":2,"o":0.485,"p":0.58,"lo":0.53,"hi":0.63},{"c":"±20 vs. Risk","dom":"Loss","t":3,"o":0.58,"p":0.63,"lo":0.58,"hi":0.68},{"c":"±20 vs. Risk","dom":"Loss","t":4,"o":0.58,"p":0.66,"lo":0.61,"hi":0.71},{"c":"±20 vs. Risk","dom":"Loss","t":5,"o":0.77,"p":0.68,"lo":0.63,"hi":0.73},{"c":"±20 vs. Risk","dom":"Loss","t":6,"o":0.58,"p":0.69,"lo":0.64,"hi":0.74},{"c":"±20 vs. Risk","dom":"Loss","t":7,"o":0.815,"p":0.7,"lo":0.65,"hi":0.75},{"c":"±20 vs. Risk","dom":"Loss","t":8,"o":0.58,"p":0.71,"lo":0.66,"hi":0.76},{"c":"±20 vs. Risk","dom":"Loss","t":9,"o":0.71,"p":0.715,"lo":0.665,"hi":0.765},{"c":"±20 vs. Risk","dom":"Loss","t":10,"o":0.61,"p":0.72,"lo":0.67,"hi":0.77},{"c":"±20 vs. Risk","dom":"Loss","t":11,"o":0.725,"p":0.73,"lo":0.68,"hi":0.78},{"c":"±20 vs. Risk","dom":"Loss","t":12,"o":0.6,"p":0.74,"lo":0.69,"hi":0.79},{"c":"±20 vs. Risk","dom":"Loss","t":13,"o":0.765,"p":0.75,"lo":0.7,"hi":0.8},{"c":"±20 vs. Risk","dom":"Loss","t":14,"o":0.855,"p":0.76,"lo":0.71,"hi":0.81},{"c":"±20 vs. Risk","dom":"Loss","t":15,"o":0.62,"p":0.77,"lo":0.72,"hi":0.82},{"c":"±20 vs. Risk","dom":"Loss","t":16,"o":0.795,"p":0.78,"lo":0.73,"hi":0.83},{"c":"±20 vs. Risk","dom":"Loss","t":17,"o":0.825,"p":0.79,"lo":0.74,"hi":0.84},{"c":"±20 vs. Risk","dom":"Loss","t":18,"o":0.6,"p":0.8,"lo":0.75,"hi":0.85},{"c":"±20 vs. Risk","dom":"Loss","t":19,"o":0.6,"p":0.81,"lo":0.76,"hi":0.86},{"c":"±20 vs. Risk","dom":"Loss","t":20,"o":0.77,"p":0.82,"lo":0.77,"hi":0.87}
]
},
"spacing":40,
"vconcat":[
{
"spacing":17,
"hconcat":[
{"width":1,"height":1,"data":{"values":[{}]},"mark":{"type":"rect","opacity":0}},
{
"title":{"text":"A","anchor":"start","frame":"bounds","font":"Liberation Sans","fontWeight":"bold","fontSize":18,"color":"#111","dx":-134,"offset":10},
"data":{"name":"A"},
"facet":{"column":{"field":"dom","type":"nominal","title":null,"header":{"labelFontSize":31,"labelPadding":25}}},
"spacing":22,
"spec":{
"width":335,"height":335,
"layer":[
{"transform":[{"filter":"datum.k == 'd'"}],"mark":{"type":"circle","size":48,"opacity":1},
"encoding":{
"x":{"field":"x","type":"quantitative","scale":{"domain":[0.47,5.5],"nice":false,"zero":false},"axis":{"values":[1,2,3,4,5],"format":"d","title":"Block","titleFontSize":31,"titlePadding":24,"labelFontSize":24,"labelPadding":13,"labelAngle":0,"tickSize":6,"domainColor":"#333","domainWidth":2,"tickColor":"#333","tickWidth":1.5}},
"y":{"field":"y","type":"quantitative","scale":{"domain":[0.04,1.04],"nice":false,"zero":false},"axis":{"values":[0.04,0.25,0.5,0.75,1],"labelOverlap":false,"labelExpr":"datum.value < 0.1 ? '0.0' : (datum.value == 0.5 ? '0.5' : (datum.value == 1 ? '1.0' : ''))","tickOpacity":{"condition":{"test":"datum.value < 0.1","value":0},"value":1},"title":"P (better choice)","titleFontSize":31,"titlePadding":37,"labelFontSize":24,"labelPadding":20,"tickSize":5,"domainColor":"#333","domainWidth":2,"tickColor":"#333","tickWidth":1.5}},
"color":{"field":"dom","type":"nominal","scale":{"domain":["Gain","Loss"],"range":["#F8766D","#00BFC4"]},"legend":null}
}},
{"transform":[{"filter":"datum.k == 'm'"}],"mark":{"type":"line","strokeWidth":4,"opacity":0.5},
"encoding":{
"x":{"field":"x","type":"quantitative"},
"y":{"field":"y","type":"quantitative"},
"color":{"field":"dom","type":"nominal","legend":null}
}}
]}
}
]
},
{
"spacing":17,
"hconcat":[
{"width":1,"height":1,"data":{"values":[{}]},"mark":{"type":"rect","opacity":0}},
{
"spacing":8,
"hconcat":[
{
"spacing":0,
"vconcat":[
{"width":1,"height":1,"data":{"values":[{}]},"mark":{"type":"rect","opacity":0}},
{
"title":{"text":"B","anchor":"start","frame":"bounds","font":"Liberation Sans","fontWeight":"bold","fontSize":18,"color":"#111","offset":27},
"bounds":"flush",
"spacing":37,
"hconcat":[
{
"width":150,"height":229,
"data":{"name":"bG"},
"title":{"text":"r = 0.59**","fontSize":24,"frame":"group","offset":18},
"layer":[
{"transform":[{"filter":"datum.k == 'p'"}],"mark":{"type":"circle","size":72,"opacity":1,"color":"#F8766D"},
"encoding":{
"x":{"field":"su","type":"quantitative","scale":{"domain":[0.33,1.65],"nice":false,"zero":false},"axis":{"values":[0.4,0.8,1.2,1.6],"labelOverlap":false,"format":".1f","labelExpr":"(datum.value == 0.4 || datum.value == 1.2) ? datum.label : ''","title":"Subjective utility","titleX":169,"titleFontSize":28.5,"titlePadding":23,"labelFontSize":22.5,"labelPadding":19,"tickSize":4,"domainColor":"#999","tickColor":"#999"}},
"y":{"field":"pr","type":"quantitative","scale":{"domain":[0,0.909],"nice":false,"zero":false},"axis":{"values":[0,0.25,0.5,0.75,0.909],"labelOverlap":false,"labelExpr":"datum.value == 0 ? '0.0' : (datum.value == 0.5 ? '0.5' : (datum.value > 0.9 ? '1.0' : ''))","tickOpacity":{"condition":{"test":"datum.value > 0.9","value":0},"value":1},"title":"p (risky choice)","titleFontSize":24,"titlePadding":18,"labelFontSize":22.5,"labelPadding":12,"tickSize":4,"domainColor":"#999","tickColor":"#999"}}
}},
{"transform":[{"filter":"datum.k == 'f'"}],"mark":{"type":"line","strokeWidth":7,"color":"#F8766D","opacity":0.5},
"encoding":{"x":{"field":"su","type":"quantitative"},"y":{"field":"pr","type":"quantitative"}}}
]},
{
"width":147,"height":229,
"data":{"name":"bL"},
"title":{"text":"r = –0.77***","fontSize":24,"frame":"group","offset":30},
"layer":[
{"transform":[{"filter":"datum.k == 'p'"}],"mark":{"type":"circle","size":72,"opacity":1,"color":"#00BFC4"},
"encoding":{
"x":{"field":"su","type":"quantitative","scale":{"domain":[0.394,1.327],"nice":false,"zero":false},"axis":{"values":[0.4,0.8,1.2],"labelOverlap":false,"format":".1f","labelExpr":"(datum.value == 0.4 || datum.value == 1.2) ? datum.label : ''","title":null,"labelFontSize":22.5,"labelPadding":19,"tickSize":4,"domainColor":"#999","tickColor":"#999"}},
"y":{"field":"pr","type":"quantitative","scale":{"domain":[0,0.909],"nice":false,"zero":false},"axis":{"values":[0,0.25,0.5,0.75],"labels":false,"title":null,"tickSize":4,"domainColor":"#999","tickColor":"#999"}}
}},
{"transform":[{"filter":"datum.k == 'f'"}],"mark":{"type":"line","strokeWidth":7,"color":"#00BFC4","opacity":0.5},
"encoding":{"x":{"field":"su","type":"quantitative"},"y":{"field":"pr","type":"quantitative"}}}
]}
]
}
]
},
{
"spacing":0,
"vconcat":[
{"width":1,"height":1,"data":{"values":[{}]},"mark":{"type":"rect","opacity":0}},
{
"title":{"text":"C","anchor":"start","frame":"bounds","font":"Liberation Sans","fontWeight":"bold","fontSize":18,"color":"#111","offset":28,"dx":15},
"data":{"name":"C"},
"facet":{
"row":{"field":"dom","type":"nominal","title":"p (better choice)","header":{"labels":false,"titleFontSize":24.5,"titlePadding":14}},
"column":{"field":"c","type":"nominal","sort":["0 vs. ±10","0 vs. ±20","0 vs. Risk","±10 vs. ±20","±20 vs. Risk"],"title":"Trial","header":{"labelOrient":"top","titleOrient":"bottom","labelFontSize":23.5,"labelPadding":44,"titleFontSize":26,"titlePadding":33}}
},
"spacing":{"row":32,"column":38},
"spec":{
"width":100,"height":83,
"layer":[
{"mark":{"type":"area","opacity":0.3},
"encoding":{
"x":{"field":"t","type":"quantitative","scale":{"domain":[0.3,20.6],"nice":false,"zero":false},"axis":{"values":[5,10,15,20],"labelOverlap":false,"labelExpr":"(datum.value == 10 || datum.value == 20) ? datum.label : ''","title":null,"labelFontSize":22,"labelPadding":14,"tickSize":4,"domainColor":"#888","tickColor":"#888","domainWidth":1.5}},
"y":{"field":"lo","type":"quantitative","scale":{"domain":[0.4,1.02],"nice":false,"zero":false},"axis":{"values":[0.6,0.8,1.0],"labelOverlap":false,"format":".1f","labelExpr":"(datum.value > 0.7 && datum.value < 0.9) ? '' : datum.label","title":null,"labelFontSize":22,"labelPadding":11,"tickSize":4,"domainColor":"#888","tickColor":"#888","domainWidth":1.5}},
"y2":{"field":"hi"},
"color":{"field":"dom","type":"nominal","scale":{"domain":["Gain","Loss"],"range":["#F8766D","#00BFC4"]},"legend":null}
}},
{"mark":{"type":"line","strokeWidth":1.5,"strokeDash":[4,2],"opacity":0.6},
"encoding":{"x":{"field":"t","type":"quantitative","axis":{"values":[5,10,15,20],"labelOverlap":false,"labelExpr":"(datum.value == 10 || datum.value == 20) ? datum.label : ''","title":null,"labelFontSize":22,"labelPadding":14,"tickSize":4,"domainColor":"#888","tickColor":"#888","domainWidth":1.5}},"y":{"field":"p","type":"quantitative","title":null},"color":{"field":"dom","type":"nominal","legend":null}}},
{"mark":{"type":"line","strokeWidth":2},
"encoding":{"x":{"field":"t","type":"quantitative","axis":{"values":[5,10,15,20],"labelOverlap":false,"labelExpr":"(datum.value == 10 || datum.value == 20) ? datum.label : ''","title":null,"labelFontSize":22,"labelPadding":14,"tickSize":4,"domainColor":"#888","tickColor":"#888","domainWidth":1.5}},"y":{"field":"o","type":"quantitative","title":null},"color":{"field":"dom","type":"nominal","legend":null}}},
{"mark":{"type":"circle","size":24,"opacity":1},
"encoding":{"x":{"field":"t","type":"quantitative","axis":{"values":[5,10,15,20],"labelOverlap":false,"labelExpr":"(datum.value == 10 || datum.value == 20) ? datum.label : ''","title":null,"labelFontSize":22,"labelPadding":14,"tickSize":4,"domainColor":"#888","tickColor":"#888","domainWidth":1.5}},"y":{"field":"o","type":"quantitative","title":null},"color":{"field":"dom","type":"nominal","legend":null}}}
]}
}
]
}
]
}
]
}
]
}
